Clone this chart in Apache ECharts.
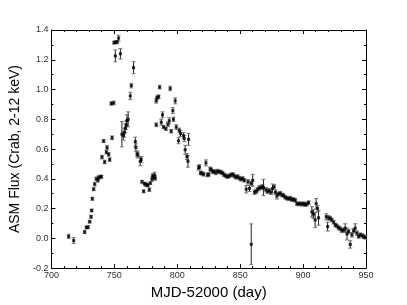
<!DOCTYPE html>
<html><head><meta charset="utf-8">
<script src="https://cdn.jsdelivr.net/npm/echarts@6/dist/echarts.min.js"></script>
<style>html,body{margin:0;padding:0;background:#fff}#c{width:407px;height:305px}</style>
</head><body><div id="c"></div>
<script>
const mjd = [713.7,717.7,726.4,727.8,729.1,730.4,731.5,732.0,732.5,733.6,734.4,735.7,737.0,737.5,738.9,739.7,740.2,741.5,742.3,743.7,744.2,745.5,746.3,747.6,748.2,749.5,749.8,750.8,751.2,752.2,753.4,754.8,756.0,757.2,757.9,758.7,759.5,760.0,761.0,762.7,763.5,765.3,766.7,767.1,768.0,768.8,770.6,771.4,772.0,773.3,774.0,775.0,775.8,776.6,777.8,778.6,779.9,780.4,781.3,782.0,782.5,783.3,783.3,783.9,785.2,786.0,787.3,788.3,789.1,791.0,792.6,793.6,794.4,795.2,796.5,797.0,798.4,799.2,801.0,801.6,802.6,805.0,805.6,806.3,807.7,808.5,809.0,816.9,817.7,818.5,819.6,821.0,822.8,824.1,825.0,826.2,827.0,828.3,829.4,830.7,832.0,833.4,834.7,836.0,837.3,838.6,840.0,841.3,842.6,844.0,845.3,846.6,848.0,849.3,850.6,852.0,853.3,854.8,856.2,857.4,858.7,858.8,860.0,861.4,862.7,863.8,865.1,866.5,867.8,868.5,870.4,871.7,873.0,874.4,875.7,877.0,878.1,879.2,880.5,881.8,883.2,884.5,885.8,887.1,888.5,889.8,891.1,892.4,893.8,895.1,896.4,897.8,899.1,900.4,901.7,903.0,904.4,907.0,908.3,909.6,910.4,911.5,912.3,918.4,919.5,920.3,921.6,922.9,924.3,925.6,926.9,928.2,929.6,930.9,932.2,933.5,934.9,936.2,937.5,938.8,940.1,941.4,942.8,944.1,945.4,946.7,948.0,949.4];
const flux = [0.013,-0.015,0.042,0.073,0.075,0.112,0.145,0.187,0.266,0.330,0.364,0.400,0.390,0.408,0.414,0.414,0.546,0.654,0.513,0.579,0.610,0.564,0.529,0.906,0.676,0.910,1.315,1.226,1.318,1.320,1.345,1.240,0.700,0.690,0.710,0.740,0.760,0.790,0.800,0.957,1.026,1.147,0.650,0.610,0.568,0.560,0.518,0.530,0.380,0.316,0.368,0.360,0.362,0.356,0.327,0.371,0.397,0.419,0.410,0.424,0.405,0.763,0.924,0.945,0.952,1.016,0.780,0.830,0.748,0.737,0.766,0.790,1.007,0.720,0.858,0.800,0.924,0.748,0.656,0.726,0.704,0.690,0.670,0.595,0.550,0.518,0.665,0.474,0.480,0.440,0.437,0.430,0.507,0.425,0.430,0.467,0.460,0.447,0.450,0.440,0.452,0.447,0.445,0.438,0.427,0.420,0.414,0.420,0.425,0.430,0.420,0.410,0.415,0.405,0.397,0.402,0.390,0.330,0.380,0.335,0.370,-0.040,0.390,0.310,0.315,0.327,0.338,0.342,0.346,0.342,0.327,0.316,0.320,0.310,0.335,0.346,0.310,0.284,0.298,0.303,0.292,0.288,0.276,0.270,0.266,0.270,0.260,0.262,0.255,0.233,0.231,0.233,0.229,0.233,0.226,0.231,0.240,0.178,0.163,0.123,0.233,0.200,0.138,0.145,0.079,0.138,0.134,0.123,0.108,0.090,0.083,0.072,0.064,0.051,0.057,0.068,0.029,0.046,-0.041,0.024,0.051,0.068,0.035,0.013,0.024,0.020,0.013,0.007];
const fluxErr = [0.015,0.020,0.010,0.010,0.010,0.010,0.010,0.010,0.010,0.010,0.012,0.012,0.012,0.012,0.010,0.010,0.012,0.010,0.012,0.012,0.015,0.012,0.012,0.012,0.012,0.012,0.010,0.040,0.010,0.010,0.020,0.035,0.085,0.030,0.030,0.030,0.030,0.040,0.050,0.025,0.015,0.040,0.030,0.025,0.020,0.020,0.030,0.020,0.010,0.010,0.010,0.010,0.010,0.010,0.012,0.010,0.015,0.015,0.015,0.020,0.015,0.012,0.015,0.012,0.012,0.012,0.020,0.020,0.012,0.012,0.015,0.020,0.015,0.012,0.020,0.015,0.020,0.015,0.020,0.015,0.020,0.020,0.020,0.030,0.020,0.040,0.040,0.015,0.015,0.012,0.012,0.012,0.020,0.012,0.012,0.012,0.012,0.012,0.012,0.012,0.012,0.012,0.012,0.012,0.012,0.012,0.012,0.012,0.012,0.012,0.012,0.012,0.012,0.012,0.012,0.012,0.012,0.025,0.015,0.020,0.015,0.137,0.040,0.015,0.015,0.015,0.015,0.015,0.015,0.055,0.015,0.015,0.015,0.015,0.030,0.015,0.015,0.020,0.012,0.012,0.012,0.012,0.012,0.012,0.012,0.012,0.012,0.012,0.012,0.012,0.012,0.012,0.012,0.012,0.012,0.012,0.012,0.035,0.030,0.050,0.035,0.020,0.050,0.020,0.030,0.015,0.012,0.012,0.012,0.012,0.012,0.012,0.012,0.012,0.012,0.030,0.040,0.015,0.025,0.015,0.015,0.030,0.015,0.012,0.012,0.012,0.012,0.012];
const xName = 'MJD-52000 (day)';
const yName = 'ASM Flux (Crab, 2-12 keV)';

const points = mjd.map((x, i) => [x, flux[i]]);
const errData = mjd.map((x, i) => [x, flux[i] - fluxErr[i], flux[i] + fluxErr[i]]);

const chart = echarts.init(document.getElementById('c'), null, {renderer: 'canvas'});
const axisCommon = {
  axisLine: {show: true, onZero: false, lineStyle: {color: '#000', width: 1}},
  splitLine: {show: false},
};
chart.setOption({
  animation: false,
  backgroundColor: '#fff',
  grid: {left: 51, right: 41, top: 30, bottom: 32},
  xAxis: [{
    type: 'value', min: 700, max: 950, interval: 50,
    name: xName, nameLocation: 'middle', nameGap: 14,
    nameTextStyle: {fontFamily: 'Liberation Sans', fontSize: 15, color: '#000'},
    ...axisCommon,
    axisTick: {show: true, inside: true, length: 4, lineStyle: {color: '#000'}},
    minorTick: {show: true, splitNumber: 5, length: 2, lineStyle: {color: '#000'}},
    axisLabel: {fontFamily: 'Liberation Sans', fontSize: 9, color: '#333', margin: 3}
  }, {
    type: 'value', min: 700, max: 950, interval: 50, position: 'top',
    ...axisCommon,
    axisTick: {show: true, inside: true, length: 4, lineStyle: {color: '#000'}},
    minorTick: {show: true, splitNumber: 5, length: 2, lineStyle: {color: '#000'}},
    axisLabel: {show: false}
  }],
  yAxis: [{
    type: 'value', min: -0.2, max: 1.4, interval: 0.2,
    name: yName, nameLocation: 'middle', nameGap: 16,
    nameTextStyle: {fontFamily: 'Liberation Sans', fontSize: 14, color: '#000'},
    ...axisCommon,
    axisTick: {show: true, inside: true, length: 4, lineStyle: {color: '#000'}},
    minorTick: {show: true, splitNumber: 2, length: 2, lineStyle: {color: '#000'}},
    axisLabel: {fontFamily: 'Liberation Sans', fontSize: 9, color: '#333', margin: 3,
      formatter: v => v.toFixed(1)}
  }, {
    type: 'value', min: -0.2, max: 1.4, interval: 0.2, position: 'right',
    ...axisCommon,
    axisTick: {show: true, inside: true, length: 4, lineStyle: {color: '#000'}},
    minorTick: {show: true, splitNumber: 2, length: 2, lineStyle: {color: '#000'}},
    axisLabel: {show: false}
  }],
  series: [{
    type: 'custom',
    data: errData,
    encode: {x: 0, y: [1, 2]},
    renderItem: function (params, api) {
      const x = api.value(0);
      const lo = api.coord([x, api.value(1)]);
      const hi = api.coord([x, api.value(2)]);
      const w = 2;
      const style = {stroke: '#222', lineWidth: 1};
      return {
        type: 'group',
        children: [
          {type: 'line', shape: {x1: lo[0], y1: lo[1], x2: hi[0], y2: hi[1]}, style: style},
          {type: 'line', shape: {x1: lo[0] - w, y1: lo[1], x2: lo[0] + w, y2: lo[1]}, style: {stroke: '#777', lineWidth: 1}},
          {type: 'line', shape: {x1: hi[0] - w, y1: hi[1], x2: hi[0] + w, y2: hi[1]}, style: {stroke: '#777', lineWidth: 1}}
        ]
      };
    },
    z: 2
  }, {
    type: 'scatter',
    data: points,
    symbol: 'rect',
    symbolSize: 3,
    itemStyle: {color: '#000'},
    z: 3
  }]
});
</script>
</body></html>
